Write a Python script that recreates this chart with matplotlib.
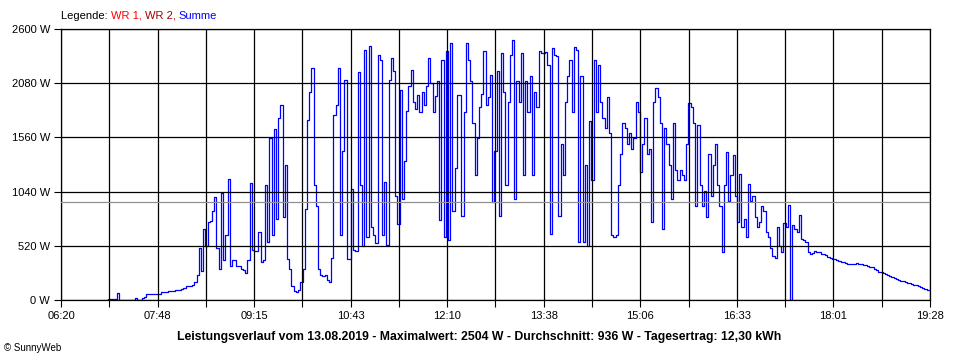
import numpy as np
import matplotlib
matplotlib.use('Agg')
import matplotlib.pyplot as plt

plt.rc('font', family=['Liberation Sans', 'DejaVu Sans'])

# Leistung (W), alle 2 Minuten ab 07:02
start_min = 7*60 + 2
step_min = 2
leistung = [
  0, 5, 5, 5, 10, 64, 0, 0, 0, 0,
  0, 0, 0, 15, 0, 0, 20, 25, 55, 58,
  58, 58, 58, 60, 60, 75, 80, 80, 82, 88,
  90, 92, 92, 100, 106, 115, 135, 138, 138, 142,
  175, 240, 500, 280, 684, 520, 748, 760, 850, 990,
  500, 300, 1030, 380, 620, 1159, 330, 385, 380, 330,
  330, 300, 290, 260, 380, 1127, 480, 470, 470, 655,
  366, 380, 1100, 560, 1550, 620, 1640, 780, 1750, 1870,
  800, 1300, 394, 300, 130, 90, 80, 100, 170, 300,
  876, 1727, 2000, 2224, 1100, 900, 300, 240, 230, 240,
  190, 170, 400, 1775, 1870, 2224, 620, 1425, 2110, 395,
  395, 1069, 480, 470, 2190, 1100, 520, 2400, 600, 2440,
  700, 620, 550, 2352, 2300, 620, 1136, 530, 2110, 2320,
  2200, 1000, 730, 2015, 972, 1330, 1810, 2050, 2210, 1900,
  1830, 1970, 1800, 2000, 1870, 2050, 2320, 2080, 1800, 1960,
  2100, 764, 2300, 600, 2385, 580, 2465, 850, 1262, 1970,
  1970, 810, 1800, 2465, 2300, 2100, 1700, 1197, 1550, 1850,
  1980, 2385, 1870, 1950, 2160, 944, 1425, 2200, 810, 2370,
  2000, 1100, 1900, 2350, 2497, 970, 2100, 1900, 2370, 1197,
  2100, 1800, 2150, 1200, 2000, 1850, 2385, 2370, 2370, 2380,
  2250, 636, 2420, 2350, 2340, 810, 1500, 1200, 1900, 2150,
  2305, 1800, 2430, 2400, 556, 2150, 560, 1300, 520, 1720,
  1150, 2300, 1800, 2256, 1900, 1750, 1650, 1950, 1600, 620,
  604, 620, 1100, 1400, 1700, 1650, 1500, 1600, 1450, 1550,
  1900, 1800, 1230, 1500, 1750, 1400, 1450, 750, 1900, 2030,
  1950, 1700, 684, 1650, 1500, 1300, 972, 1700, 1250, 1150,
  1250, 1200, 1150, 1500, 1890, 1850, 1700, 900, 1680, 1100,
  900, 1050, 800, 1400, 1000, 1300, 1500, 1100, 900, 460,
  1100, 1420, 950, 1200, 1390, 1000, 750, 1213, 700, 780,
  600, 1117, 950, 1000, 800, 700, 750, 900, 850, 650,
  600, 500, 420, 400, 700, 520, 460, 740, 700, 908,
  0, 716, 684, 650, 812, 587, 580, 560, 459, 440,
  450, 470, 460, 465, 445, 440, 430, 410, 400, 395,
  390, 385, 370, 365, 362, 355, 350, 350, 348, 345,
  355, 350, 345, 338, 332, 325, 320, 312, 300, 290,
  272, 265, 255, 245, 238, 228, 220, 210, 200, 190,
  183, 178, 172, 165, 160, 152, 146, 140, 132, 125,
  115, 105, 100, 96,
]
durchschnitt = 936
x_labels = ['06:20', '07:48', '09:15', '10:43', '12:10', '13:38', '15:06', '16:33', '18:01', '19:28']
y_ticks = [0, 520, 1040, 1560, 2080, 2600]
t_start = 6*60 + 20
t_end = 19*60 + 28

zeit = start_min + step_min*np.arange(len(leistung))

fig = plt.figure(figsize=(9.6, 3.6), dpi=100)
ax = fig.add_axes([61/960, 60/360, 869/960, 271/360])

ax.plot(zeit, leistung, color='#0000ff', lw=0.9, drawstyle='steps-mid', zorder=2)
ax.axhline(durchschnitt, color='#909090', lw=0.9, zorder=3)

ax.set_xlim(t_start, t_end)
ax.set_ylim(0, 2600)
ax.set_xticks(np.linspace(t_start, t_end, len(x_labels)))
ax.set_xticklabels(x_labels)
ax.set_xticks(np.linspace(t_start, t_end, 2*len(x_labels)-1), minor=True)
ax.set_yticks(y_ticks)
ax.set_yticklabels(['%d W' % v for v in y_ticks])
ax.tick_params(axis='both', which='both', direction='out', length=5, width=0.8,
               color='black', labelsize=8, pad=3)
ax.grid(True, which='both', color='black', lw=0.9)
ax.set_axisbelow(False)
for s in ax.spines.values():
  s.set_color('black')
  s.set_linewidth(0.9)

# Legende
t0 = fig.text(61/960, 1-16/360, 'Legende: ', fontsize=8, va='center')
t1 = ax.annotate('WR 1, ', xy=(1, 0), xycoords=t0, va='bottom', fontsize=8, color='#ff0000')
t2 = ax.annotate('WR 2, ', xy=(1, 0), xycoords=t1, va='bottom', fontsize=8, color='#a00000')
t3 = ax.annotate('Summe', xy=(1, 0), xycoords=t2, va='bottom', fontsize=8, color='#0000ff')

fig.text(479/960, 1-337/360, 'Leistungsverlauf vom 13.08.2019 - Maximalwert: 2504 W - Durchschnitt: 936 W - Tagesertrag: 12,30 kWh',
         ha='center', va='center', fontsize=8.8, fontweight='bold')
fig.text(4/960, 1-348/360, '\u00a9 SunnyWeb', ha='left', va='center', fontsize=7)

fig.savefig('out.png', dpi=100)
